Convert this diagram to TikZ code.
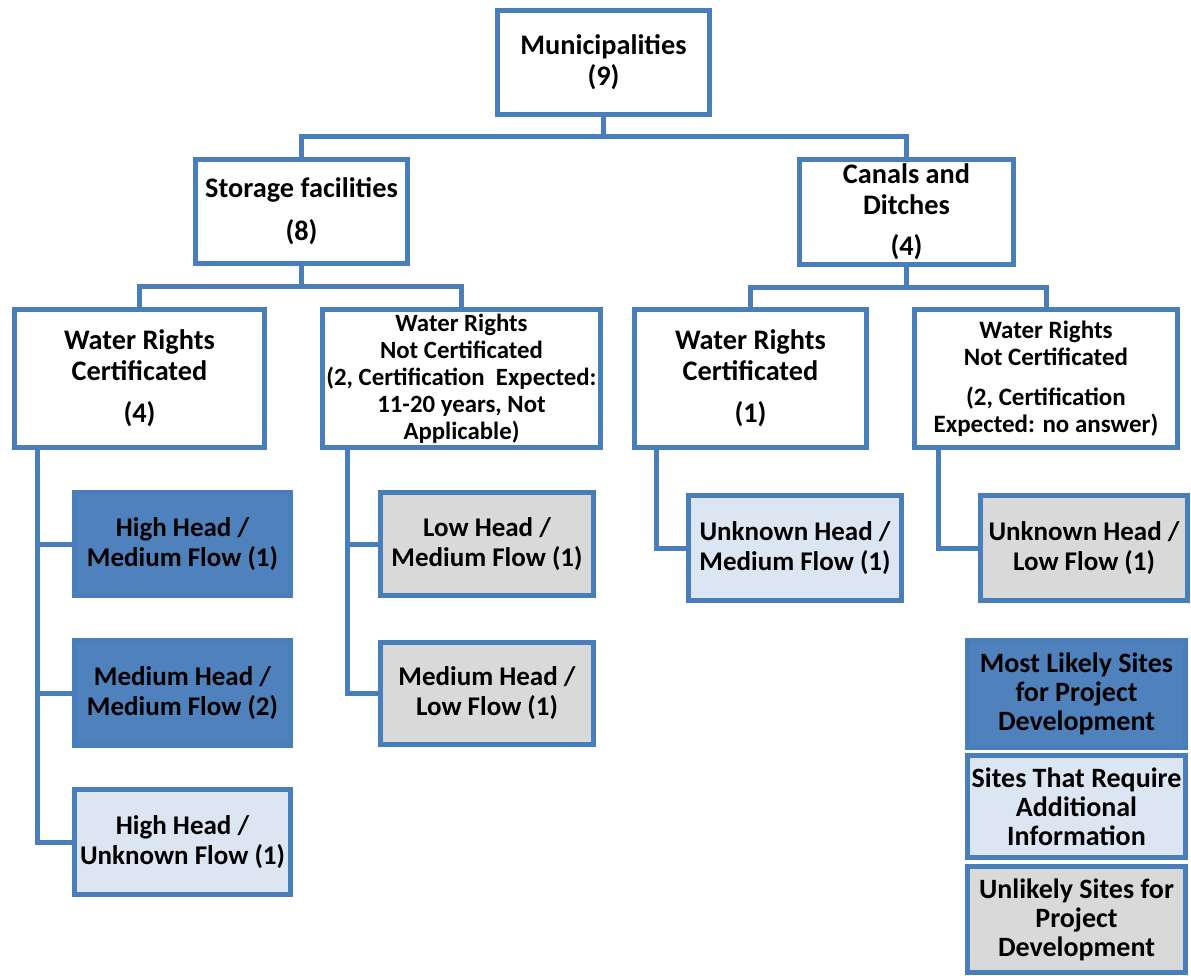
\documentclass[tikz,border=0pt]{standalone}
\usepackage{fontspec}
\setmainfont{Carlito}
\definecolor{edgeblue}{RGB}{74,126,187}
\definecolor{darkfill}{RGB}{79,129,189}
\definecolor{lightfill}{RGB}{220,230,242}
\definecolor{greyfill}{RGB}{217,217,217}
\begin{document}
\begin{tikzpicture}[x=1pt,y=-1pt,
  box/.style={draw=edgeblue, line width=5pt, rectangle, inner sep=0pt,
    align=center, text=black, fill=white},
  big/.style={box, font=\fontsize{28.3pt}{31pt}\selectfont\bfseries},
  mid/.style={box, font=\fontsize{24.8pt}{27pt}\selectfont\bfseries},
  leaf/.style={box, font=\fontsize{27pt}{30pt}\selectfont\bfseries},
  keyfont/.style={font=\fontsize{28pt}{29pt}\selectfont\bfseries},
  likely/.style={leaf, fill=darkfill},
  moreinfo/.style={leaf, fill=lightfill},
  unlikely/.style={leaf, fill=greyfill},
  conn/.style={draw=edgeblue, line width=5pt}
]
\fill[white] (0,0) rectangle (1191,976);
\useasboundingbox (0,0) rectangle (1191,976);

% top level
\node[big, minimum width=212pt, minimum height=104pt] (muni) at (603.5,62.5)
  {Municipalities\\(9)};

% second level
\node[big, minimum width=212pt, minimum height=104pt] (stor) at (301.5,211.5)
  {Storage facilities\\[12pt](8)};
\node[big, minimum width=214pt, minimum height=105pt] (canal) at (906.5,212)
  {Canals and\\Ditches\\[10pt](4)};

% water rights level
\node[big, minimum width=250pt, minimum height=138pt] (wrc1) at (139.5,378.5)
  {Water Rights\\Certificated\\[11pt](4)};
\node[mid, minimum width=278pt, minimum height=138pt] (wrn1) at (461.5,378.5)
  {Water Rights\\Not Certificated\\(2, Certification\ \ Expected:\\11-20 years, Not\\Applicable)};
\node[big, minimum width=232pt, minimum height=138pt] (wrc2) at (750.5,378.5)
  {Water Rights\\Certificated\\[11pt](1)};
\node[mid, font=\fontsize{25pt}{27pt}\selectfont\bfseries,
  minimum width=263pt, minimum height=138pt] (wrn2) at (1046,378.5)
  {Water Rights\\Not Certificated\\[13pt](2, Certification\\Expected: no answer)};

% site classes
\node[likely, minimum width=216pt, minimum height=103pt] (a1) at (182.5,544)
  {High Head /\\Medium Flow (1)};
\node[likely, minimum width=216pt, minimum height=105pt] (a2) at (182.5,693)
  {Medium Head /\\Medium Flow (2)};
\node[moreinfo, minimum width=216pt, minimum height=105pt] (a3) at (182.5,842)
  {High Head /\\Unknown Flow (1)};
\node[unlikely, minimum width=213pt, minimum height=103pt] (b1) at (487,544)
  {Low Head /\\Medium Flow (1)};
\node[unlikely, minimum width=213pt, minimum height=102pt] (b2) at (487,693.5)
  {Medium Head /\\Low Flow (1)};
\node[moreinfo, minimum width=213pt, minimum height=105pt] (c1) at (795,548)
  {Unknown Head /\\Medium Flow (1)};
\node[unlikely, minimum width=207pt, minimum height=105pt] (d1) at (1084,548)
  {Unknown Head /\\Low Flow (1)};

% legend
\node[likely, keyfont, minimum width=218pt, minimum height=107pt] (key1) at (1076.5,694)
  {Most Likely Sites\\for Project\\Development};
\node[moreinfo, keyfont, minimum width=218pt, minimum height=102pt] (key2) at (1076.5,806.5)
  {Sites That Require\\Additional\\Information};
\node[unlikely, keyfont, minimum width=218pt, minimum height=106pt] (key3) at (1076.5,919.5)
  {Unlikely Sites for\\Project\\Development};

% tree connectors
\draw[conn] (muni.south) -- ++(0,20) coordinate (j0) -| (stor.north);
\draw[conn] (j0) -| (canal.north);
\draw[conn] (stor.south) -- ++(0,21) coordinate (j1) -| (wrc1.north);
\draw[conn] (j1) -| (wrn1.north);
\draw[conn] (canal.south) -- ++(0,21) coordinate (j2) -| (wrc2.north);
\draw[conn] (j2) -| (wrn2.north);

% side rails to the site classes
\draw[conn] ([xshift=25.5pt]wrc1.south west) |- (a3.west);
\draw[conn] ([xshift=25.5pt]wrc1.south west) |- (a1.west);
\draw[conn] ([xshift=25.5pt]wrc1.south west) |- (a2.west);
\draw[conn] ([xshift=27.5pt]wrn1.south west) |- (b2.west);
\draw[conn] ([xshift=27.5pt]wrn1.south west) |- (b1.west);
\draw[conn] ([xshift=24.5pt]wrc2.south west) |- (c1.west);
\draw[conn] ([xshift=26.5pt]wrn2.south west) |- (d1.west);
\end{tikzpicture}
\end{document}
